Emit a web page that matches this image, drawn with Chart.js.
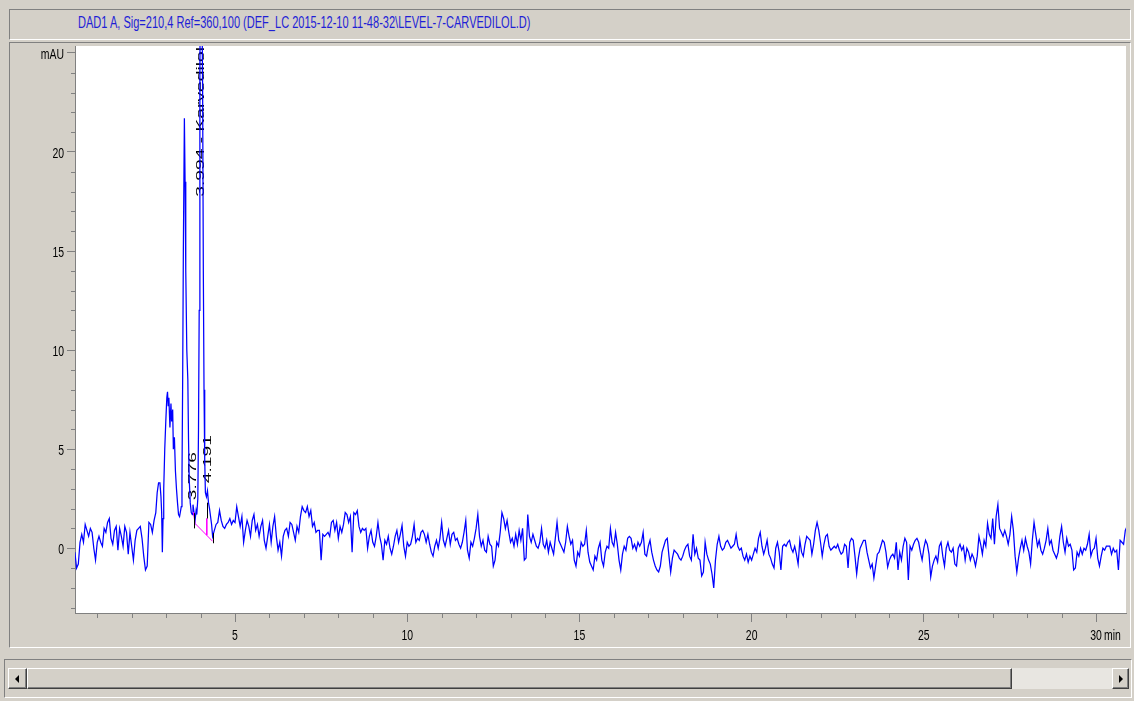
<!DOCTYPE html>
<html>
<head>
<meta charset="utf-8">
<title>DAD1 A chromatogram</title>
<script src="https://cdn.jsdelivr.net/npm/chart.js@4.4.1/dist/chart.umd.min.js"></script>
<style>
  html, body { margin: 0; padding: 0; width: 1134px; height: 701px; overflow: hidden; background: #d4d0c8;
    font-family: "Liberation Sans", Arial, sans-serif; }
  .panel { position: absolute; box-sizing: border-box; border: 1px solid; border-color: #808080 #ffffff #ffffff #808080; }
  #titleBar { left: 9px; top: 9px; width: 1122px; height: 31px; }
  #titleText { position: absolute; left: 68px; top: 6px; color: #1f1fd6; font-size: 12px; line-height: 14px; white-space: nowrap;
    transform: scale(0.92, 1.3); transform-origin: left center; }
  #plotPanel { left: 9px; top: 42px; width: 1122px; height: 606px; }
  #scrollFrame { left: 4px; top: 659px; width: 1128px; height: 39px; }
  .raised { position: absolute; box-sizing: border-box; background: #d4d0c8; border: 1px solid;
    border-color: #ffffff #404040 #404040 #ffffff; box-shadow: inset -1px -1px 0 #808080; }
  #track { position: absolute; left: 1012px; top: 668px; width: 100px; height: 21px; background: #e8e6e1; }
  .arrowL { position: absolute; left: 6px; top: 6px; width: 0; height: 0; border-top: 4px solid transparent;
    border-bottom: 4px solid transparent; border-right: 4px solid #000; }
  .arrowR { position: absolute; left: 6px; top: 6px; width: 0; height: 0; border-top: 4px solid transparent;
    border-bottom: 4px solid transparent; border-left: 4px solid #000; }
  #chart { position: absolute; left: 0; top: 0; }
</style>
</head>
<body>
<div id="titleBar" class="panel"><div id="titleText">DAD1 A, Sig=210,4 Ref=360,100 (DEF_LC 2015-12-10 11-48-32\LEVEL-7-CARVEDILOL.D)</div></div>
<div id="plotPanel" class="panel"></div>
<div id="scrollFrame" class="panel"></div>
<div class="raised" style="left:8px;top:668px;width:19px;height:21px;"><div class="arrowL"></div></div>
<div class="raised" style="left:27px;top:668px;width:985px;height:21px;"></div>
<div id="track"></div>
<div class="raised" style="left:1112px;top:668px;width:17px;height:21px;"><div class="arrowR"></div></div>
<canvas id="chart" width="1134" height="701"></canvas>
<script>
// ---- Signal DAD1 A (mAU) versus retention time (min) ----
const sampleStep = 0.05;                       // min between samples in the regular runs
const segmentStart = [0.35, 4.40, 7.95, 15.65, 23.30];

const signalA = [-0.2,-1.0,-0.8,0.3,0.7,0.3,1.2,0.9,0.6,1.0,0.8,0.0,-0.6,0.3,0.6,0.3,0.1,1.0,0.8,1.3,
  1.5,0.5,0.2,0.9,1.1,-0.1,1.0,0.6,0.1,1.1,0.8,-0.3,0.8,0.1,-0.6,0.4,0.9,1.0,1.1,0.5,
  -0.4,-1.1,-0.9,1.3,1.2,0.8,1.4];

// peak cluster, sampled more densely
const peakTimes = [2.70,2.74,2.78,2.82,2.85,2.87,2.89,2.91,2.93,2.96,2.99,3.02,3.04,3.06,3.08,3.11,3.14,3.16,3.19,3.21,
  3.24,3.27,3.30,3.33,3.36,3.39,3.42,3.44,3.46,3.48,3.50,3.53,3.55,3.57,3.60,3.63,3.65,3.67,3.70,3.73,
  3.76,3.78,3.81,3.84,3.87,3.89,3.92,3.94,3.96,3.98,4.00,4.03,4.06,4.08,4.10,4.12,4.14,4.17,4.20,4.23,
  4.26,4.29,4.32,4.35];
const peakSignal = [1.8,2.8,3.3,3.3,2.6,1.8,-0.2,1.5,3.0,5.0,6.4,7.6,7.9,7.2,7.6,6.1,7.3,6.4,7.0,5.0,
  5.6,3.9,3.0,2.3,1.7,1.6,1.9,2.1,3.5,8.5,15.0,21.7,18.5,14.0,10.0,8.5,5.5,3.5,2.3,1.8,
  1.7,2.2,1.8,1.4,1.9,1.7,2.5,6.0,12.0,24.0,31.0,30.0,23.0,14.0,8.0,4.5,2.8,2.6,2.9,2.3,
  2.0,1.6,1.2,0.6];

const signalB = [0.9,1.2,1.3,1.9,1.4,1.1,1.0,1.2,1.3,1.5,1.2,1.4,
  1.3,2.1,1.6,1.1,1.6,0.3,0.9,1.4,1.1,0.6,1.4,1.7,0.9,1.2,0.6,1.1,1.4,0.4,0.0,0.6,
  1.2,0.3,1.1,1.6,0.6,-0.1,0.3,-0.4,0.6,0.9,1.0,0.6,1.3,1.2,0.8,0.4,1.1,0.8,1.6,2.1,
  1.9,1.8,2.1,1.6,1.9,1.1,1.3,0.8,0.9,0.9,-0.6,0.7,0.6,0.7,0.8,0.6,1.3,1.4,0.9];

const signalC = [1.3,0.5,1.1,0.8,1.2,1.8,1.7,1.3,1.6,-0.2,1.8,1.7,1.9,1.1,0.8,1.0,0.9,1.0,0.0,0.6,0.9,
  0.3,0.1,0.6,1.3,0.6,0.2,-0.6,0.4,0.2,0.6,0.0,-0.3,0.1,0.6,0.9,0.3,0.7,1.15,0.1,-0.4,
  0.3,0.1,0.2,0.6,1.2,0.3,0.5,0.4,0.8,0.9,0.7,0.3,0.7,0.2,-0.2,-0.4,0.1,0.4,0.0,0.5,
  1.3,0.4,0.1,0.5,0.9,0.2,0.7,0.8,0.4,0.5,0.2,0.0,0.3,0.8,1.4,-0.1,-0.5,0.3,0.1,0.5,
  1.0,1.7,0.6,0.1,0.4,-0.1,-0.2,0.6,0.2,0.1,-0.9,-0.6,0.3,0.1,0.8,1.8,1.5,1.0,1.4,0.8,
  0.3,0.5,0.1,0.7,0.2,0.9,0.4,1.0,-0.6,-0.5,1.7,0.6,0.3,0.7,0.4,0.1,0.0,0.3,1.0,0.2,
  0.0,0.4,-0.2,0.3,0.0,-0.3,0.5,1.3,0.4,0.2,0.0,-0.2,0.3,1.1,0.6,0.2,0.4,-0.6,-0.9,-0.2,
  -0.4,0.3,0.1,0.2,0.9,-0.2,-0.7,-0.9,-1.1,-0.4,-0.6,0.0,0.3];

const signalD = [-0.6,-0.9,-0.2,0.1,0.0,1.0,0.3,
  0.1,0.8,0.2,-0.6,-1.1,-0.3,0.1,-0.1,0.5,0.6,0.5,0.0,0.2,-0.1,0.3,0.1,0.3,0.8,-0.3,-0.4,
  0.1,0.4,-0.2,-0.6,-0.9,-1.1,-1.2,-0.9,-0.2,0.1,0.4,0.5,-0.4,-1.2,-0.5,-0.1,-0.2,-0.3,-0.5,-0.6,
  -0.4,-0.1,0.1,0.2,-0.4,-0.6,0.7,-0.3,0.0,-0.5,-0.6,-1.4,-1.2,0.3,-0.3,-0.6,-0.8,-1.3,-2.0,-0.6,
  0.2,0.6,0.1,-0.1,0.0,0.3,0.4,0.2,0.0,0.1,0.2,0.7,0.1,-0.1,0.0,-0.4,-0.6,-0.3,-0.7,-0.4,
  -0.6,-0.3,0.0,-0.2,0.5,0.8,0.1,-0.3,0.0,0.4,-0.3,-0.5,-0.8,-1.0,0.0,0.3,-0.2,-1.1,0.1,0.2,
  0.1,0.3,0.4,0.0,-0.2,0.1,-0.3,-0.8,0.4,-0.2,-0.4,0.2,0.6,0.5,0.4,-0.3,0.2,0.9,1.3,0.9,
  0.3,-0.4,0.2,0.6,0.7,0.1,-0.1,0.0,0.1,0.0,0.2,-0.1,-0.3,-0.2,0.2,0.1,-1.0,0.3,0.5,0.4,
  -0.4,-1.3,-0.5,0.0,0.2,0.4];

const signalE = [0.4,-0.2,-0.6,-1.0,-0.8,-1.5,-0.9,-0.3,-0.2,0.1,0.4,0.3,-0.2,-0.95,
  -0.6,-0.4,-0.3,-0.5,0.3,-1.1,-0.2,-0.6,0.1,0.5,0.3,-1.6,0.1,-0.1,0.2,0.4,0.5,0.3,-0.2,-0.6,
  0.0,0.4,0.2,-0.3,-1.45,-0.9,-0.6,-0.4,-0.7,0.1,0.3,-0.4,-0.9,0.0,0.3,-0.1,-0.2,0.0,-0.8,-0.9,
  0.0,0.2,-0.1,0.1,-0.6,0.0,-0.2,-0.6,-0.3,-0.5,-0.9,-0.4,0.6,0.2,-0.3,0.4,0.1,1.25,0.7,0.5,
  1.5,0.2,1.6,2.2,1.0,0.8,0.6,0.9,0.6,0.2,0.7,1.6,0.9,-0.4,-1.2,-0.5,0.0,0.4,-0.1,0.5,
  0.1,-0.2,-0.8,0.4,1.3,0.7,0.1,0.4,-0.1,-0.3,0.0,0.4,1.0,0.2,0.4,-0.1,-0.3,-0.5,-0.2,0.6,
  1.1,0.3,-0.2,0.5,0.1,0.2,-0.1,-1.1,-1.0,-0.2,-0.4,0.0,-0.3,0.0,-0.1,0.2,0.7,-0.4,-0.1,0.0,
  0.5,-0.5,-0.9,-0.4,0.0,-0.1,0.1,0.1,0.1,-0.3,0.0,-0.2,-0.1,-1.1,0.4,0.3,0.2,0.9,1.1];

// integration baseline (magenta) and drop line
const baselineTimes = [3.79, 3.84, 4.35];
const baselineSignal = [1.83, 1.25, 0.35];
const dropTimes = [4.18, 4.18];
const dropSignal = [1.5, 0.66];

// peak start / end marks
const markTimes = [3.82, 4.18, 4.35];
const markLow = [1.0, 1.5, 0.25];
const markHigh = [1.77, 2.3, 0.76];

// retention-time annotations
const peakLabels = ['3.776', '3.994 - Karvedilol', '4.191'];
const peakLabelTimes = [3.776, 3.994, 4.191];
const peakLabelFrom = [2.42, 17.74, 3.28];

// axes
const xMajor = [5, 10, 15, 20, 25, 30];
const yMajor = [0, 5, 10, 15, 20, 25];
const xUnit = 'min';
const yUnit = 'mAU';

function run(start, values) {
  return values.map((v, i) => ({ x: Math.round((start + i * sampleStep) * 100) / 100, y: v }));
}
function pairs(times, values) {
  return times.map((t, i) => ({ x: t, y: values[i] }));
}

const tracePoints = [].concat(
  run(segmentStart[0], signalA),
  pairs(peakTimes, peakSignal),
  run(segmentStart[1], signalB),
  run(segmentStart[2], signalC),
  run(segmentStart[3], signalD),
  run(segmentStart[4], signalE)
);

const labelFont = '11px "Liberation Sans", Arial, sans-serif';

// tall, narrow axis lettering
function axisText(ctx, text, x, y, align) {
  ctx.save();
  ctx.translate(x, y);
  ctx.scale(0.95, 1.4);
  ctx.textAlign = align;
  ctx.fillText(text, 0, 0);
  ctx.restore();
}

const chromePlugin = {
  id: 'chrome',
  beforeDraw(chart) {
    const { ctx, chartArea: a } = chart;
    ctx.save();
    ctx.fillStyle = '#ffffff';
    ctx.fillRect(a.left, a.top, a.right - a.left, a.bottom - a.top);
    ctx.restore();
  },
  beforeDatasetsDraw(chart) {
    const { ctx } = chart;
    const xs = chart.scales.x, ys = chart.scales.y;
    ctx.save();
    ctx.fillStyle = '#000000';
    ctx.font = labelFont;
    ctx.textAlign = 'left';
    ctx.textBaseline = 'middle';
    peakLabels.forEach((txt, i) => {
      ctx.save();
      ctx.translate(xs.getPixelForValue(peakLabelTimes[i]) + 0.5, ys.getPixelForValue(peakLabelFrom[i]));
      ctx.rotate(-Math.PI / 2);
      ctx.scale(1.75, 1);
      ctx.fillText(txt, 0, 0);
      ctx.restore();
    });
    ctx.restore();
  },
  afterDatasetsDraw(chart) {
    const { ctx } = chart;
    const xs = chart.scales.x, ys = chart.scales.y;
    ctx.save();
    ctx.strokeStyle = '#000000';
    ctx.lineWidth = 1;
    markTimes.forEach((t, i) => {
      const px = Math.round(xs.getPixelForValue(t)) + 0.5;
      ctx.beginPath();
      ctx.moveTo(px, ys.getPixelForValue(markLow[i]));
      ctx.lineTo(px, ys.getPixelForValue(markHigh[i]));
      ctx.stroke();
    });
    ctx.restore();
  },
  afterDraw(chart) {
    const { ctx } = chart;
    const xs = chart.scales.x, ys = chart.scales.y;
    ctx.save();
    // minor ticks every 1 mAU and every 1 min
    ctx.strokeStyle = '#808080';
    ctx.lineWidth = 1;
    ctx.beginPath();
    for (let v = Math.ceil(ys.min); v <= ys.max; v++) {
      if (yMajor.includes(v)) continue;
      const py = Math.round(ys.getPixelForValue(v)) + 0.5;
      ctx.moveTo(ys.right - 4, py);
      ctx.lineTo(ys.right, py);
    }
    for (let v = Math.ceil(xs.min); v <= xs.max; v++) {
      if (xMajor.includes(v)) continue;
      const px = Math.round(xs.getPixelForValue(v)) + 0.5;
      ctx.moveTo(px, xs.top);
      ctx.lineTo(px, xs.top + 5);
    }
    ctx.stroke();
    // tick labels
    ctx.fillStyle = '#000000';
    ctx.font = labelFont;
    ctx.textBaseline = 'middle';
    ys.ticks.forEach(t => {
      const txt = t.value === yMajor[yMajor.length - 1] ? yUnit : String(t.value);
      axisText(ctx, txt, ys.right - 11, ys.getPixelForValue(t.value) + 1.5, 'right');
    });
    const labelY = xs.top + 23;
    xs.ticks.forEach(t => {
      axisText(ctx, String(t.value), xs.getPixelForValue(t.value), labelY, 'center');
    });
    const last = xMajor[xMajor.length - 1];
    axisText(ctx, xUnit, xs.getPixelForValue(last) + 8, labelY, 'left');
    ctx.restore();
  }
};

new Chart(document.getElementById('chart'), {
  type: 'line',
  data: {
    datasets: [
      { data: tracePoints, borderColor: '#0000ff', borderWidth: 1.25, pointRadius: 0, tension: 0, order: 3 },
      { data: pairs(baselineTimes, baselineSignal), borderColor: '#ff00ff', borderWidth: 1, pointRadius: 0, tension: 0, order: 1 },
      { data: pairs(dropTimes, dropSignal), borderColor: '#ff00ff', borderWidth: 1, pointRadius: 0, tension: 0, order: 2 }
    ]
  },
  options: {
    responsive: false,
    animation: false,
    events: [],
    layout: { padding: { left: 0, top: 46, right: 8, bottom: 0 } },
    plugins: { legend: { display: false }, tooltip: { enabled: false } },
    scales: {
      x: {
        type: 'linear', min: 0.354, max: 30.87,
        afterFit(s) { s.height = 88; },
        afterBuildTicks(s) { s.ticks = xMajor.map(v => ({ value: v })); },
        ticks: { display: false },
        grid: { drawOnChartArea: false, drawTicks: true, tickLength: 9, color: '#808080' },
        border: { display: true, color: '#808080', width: 1 }
      },
      y: {
        type: 'linear', min: -3.27, max: 25.35,
        afterFit(s) { s.width = 75; },
        afterBuildTicks(s) { s.ticks = yMajor.map(v => ({ value: v })); },
        ticks: { display: false },
        grid: { drawOnChartArea: false, drawTicks: true, tickLength: 8, color: '#808080' },
        border: { display: true, color: '#808080', width: 1 }
      }
    }
  },
  plugins: [chromePlugin]
});
</script>
</body>
</html>
